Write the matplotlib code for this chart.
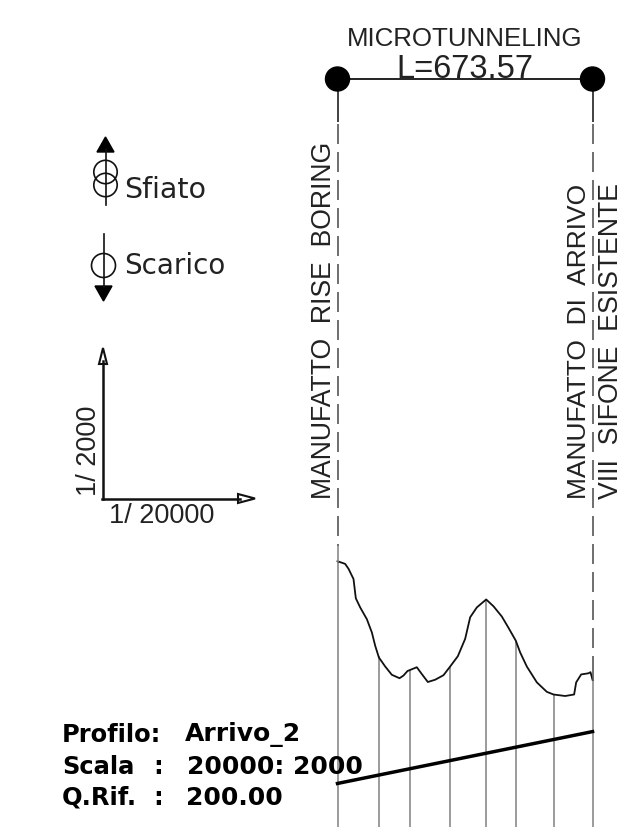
import numpy as np
import matplotlib
matplotlib.use("Agg")
import matplotlib.pyplot as plt
from matplotlib.patches import Circle, Polygon

# Data (metres along the route / elevation)
dist = [0, 20.2, 29.1, 42.3, 48.4, 59.9, 77.5, 90.7, 99.5, 109.2, 125.9, 143.5, 163.8, 174.3, 184.9,
        209.5, 222.7, 238.6, 258, 280, 297.6, 317.8, 337.2, 350.4, 368, 392.7, 412, 434, 451.7, 471,
        482.5, 500, 526.5, 552.9, 570.5, 601.3, 625, 630.4, 643.6, 663, 668.2, 673.57]
ground = [270.2, 269.5, 268.2, 265.5, 260.4, 258.0, 254.9, 251.4, 247.9, 244.8, 242.4, 240.2, 239.3,
          240.0, 241.2, 242.2, 240.4, 238.3, 238.9, 240.1, 242.4, 245.1, 249.7, 255.4, 258.0, 260.1,
          258.3, 255.6, 252.6, 249.2, 246.1, 242.4, 238.2, 235.7, 235.0, 234.6, 235.0, 238.2, 240.3,
          240.6, 240.9, 238.9]
stations = [0, 108.3, 191, 296.7, 393.5, 471, 572.3, 673.57]
tunnel_d = [0, 673.57]
tunnel_z = [211.5, 225.2]
manholes = ["MANUFATTO  RISE  BORING", "MANUFATTO  DI  ARRIVO", "VIII  SIFONE  ESISTENTE"]
Z_REF = 200.0
W, H = 631, 828
PX_M = 0.3786

fig = plt.figure(figsize=(W/100, H/100), dpi=100)
x0 = 337.5
ax = fig.add_axes([x0/W, 0, 673.57*PX_M/W, 1])
ax.set_xlim(0, 673.57)
ax.set_ylim(Z_REF, Z_REF + H/(10*PX_M))
ax.axis("off")

tops = np.interp(stations, dist, ground)
for s, t in zip(stations, tops):
    ax.plot([s, s], [Z_REF, t], color="#8a8a8a", lw=1.2, solid_capstyle="butt", clip_on=False)
ax.plot(dist, ground, color="#111111", lw=1.3, clip_on=False)
ax.plot(tunnel_d, tunnel_z, color="black", lw=2.5, clip_on=False)

ov = fig.add_axes([0, 0, 1, 1])
ov.set_xlim(0, W); ov.set_ylim(H, 0); ov.axis("off"); ov.patch.set_alpha(0)
NARROW = "Liberation Sans"
RND = "DejaVu Sans"
INK = "#222222"

xl, xr = 337.5, 592.5
yt = 80
ov.plot([xl, xr], [yt, yt], color=INK, lw=1.4)
dash_end = {xl: 547, xr: 663}
for x in (xl, xr):
    ov.add_patch(Circle((x, yt), 12, color="black", zorder=5))
    ov.plot([x, x], [yt, 123], color="#333333", lw=1.3, solid_capstyle="butt")
    ov.plot([x, x], [125, dash_end[x]], color="#555555", lw=1.2, dashes=(12, 4.8), dash_capstyle="butt")
ov.plot([xl, xl], [547, 563], color="#8a8a8a", lw=1.2, solid_capstyle="butt")
ov.plot([xr, xr], [663, 682], color="#555555", lw=1.2, solid_capstyle="butt")

ov.text(464.5, 38.5, "MICROTUNNELING", family=NARROW, fontsize=18.6, ha="center", va="center", color=INK)
ov.text(465, 69, "L=673.57", family=NARROW, fontsize=23.5, ha="center", va="center", color=INK)

ov.text(324, 499, manholes[0], family=NARROW, fontsize=19.2, rotation=90, ha="center", va="bottom", color=INK)
ov.text(579, 499, manholes[1], family=NARROW, fontsize=19, rotation=90, ha="center", va="bottom", color=INK)
ov.text(611, 499, manholes[2], family=NARROW, fontsize=19.2, rotation=90, ha="center", va="bottom", color=INK)

# legend symbols
c = "#111111"
ov.plot([105.5, 105.5], [150, 206], color=c, lw=1.2)
ov.add_patch(Polygon([[97, 153], [114, 153], [105.5, 138]], color="black"))
ov.add_patch(Circle((105.5, 173), 11.7, fill=False, ec=c, lw=1.2))
ov.add_patch(Circle((105.5, 186), 11.7, fill=False, ec=c, lw=1.2))
ov.text(124, 190, "Sfiato", family=RND, fontsize=20.5, ha="left", va="center", color=INK)
ov.plot([103.5, 103.5], [235, 288], color=c, lw=1.2)
ov.add_patch(Polygon([[95, 287], [112, 287], [103.5, 302]], color="black"))
ov.add_patch(Circle((103.5, 266.5), 12, fill=False, ec=c, lw=1.2))
ov.text(124, 266, "Scarico", family=RND, fontsize=20, ha="left", va="center", color=INK)

# scale axes
ov.plot([103, 103], [362, 499.5], color=c, lw=1.8)
ov.plot([102, 240], [499.5, 499.5], color=c, lw=1.8)
ov.add_patch(Polygon([[99, 365], [107, 365], [103, 349]], fc="white", ec=c, lw=1.5))
ov.add_patch(Polygon([[238, 495], [238, 504], [255, 499.5]], fc="white", ec=c, lw=1.5))
ov.text(89, 451, "1/ 2000", family="Liberation Sans", fontsize=19.5, rotation=90, ha="center", va="center", color=INK)
ov.text(162, 516, "1/ 20000", family="Liberation Sans", fontsize=19.5, ha="center", va="center", color=INK)

# title block
rows = [(735, "Profilo:", "", 185, "Arrivo_2"), (767, "Scala", ":", 187, "20000: 2000"), (798, "Q.Rif.", ":", 186, "200.00")]
for y, a, colon, x, b in rows:
    ov.text(62, y, a, family=RND, fontweight="bold", fontsize=17.4, ha="left", va="center", color="black")
    if colon:
        ov.text(158, y, colon, family=RND, fontweight="bold", fontsize=17.4, ha="center", va="center", color="black")
    ov.text(x, y, b, family=RND, fontweight="bold", fontsize=18, ha="left", va="center", color="black")

fig.savefig("out.png", dpi=100, facecolor="white")
